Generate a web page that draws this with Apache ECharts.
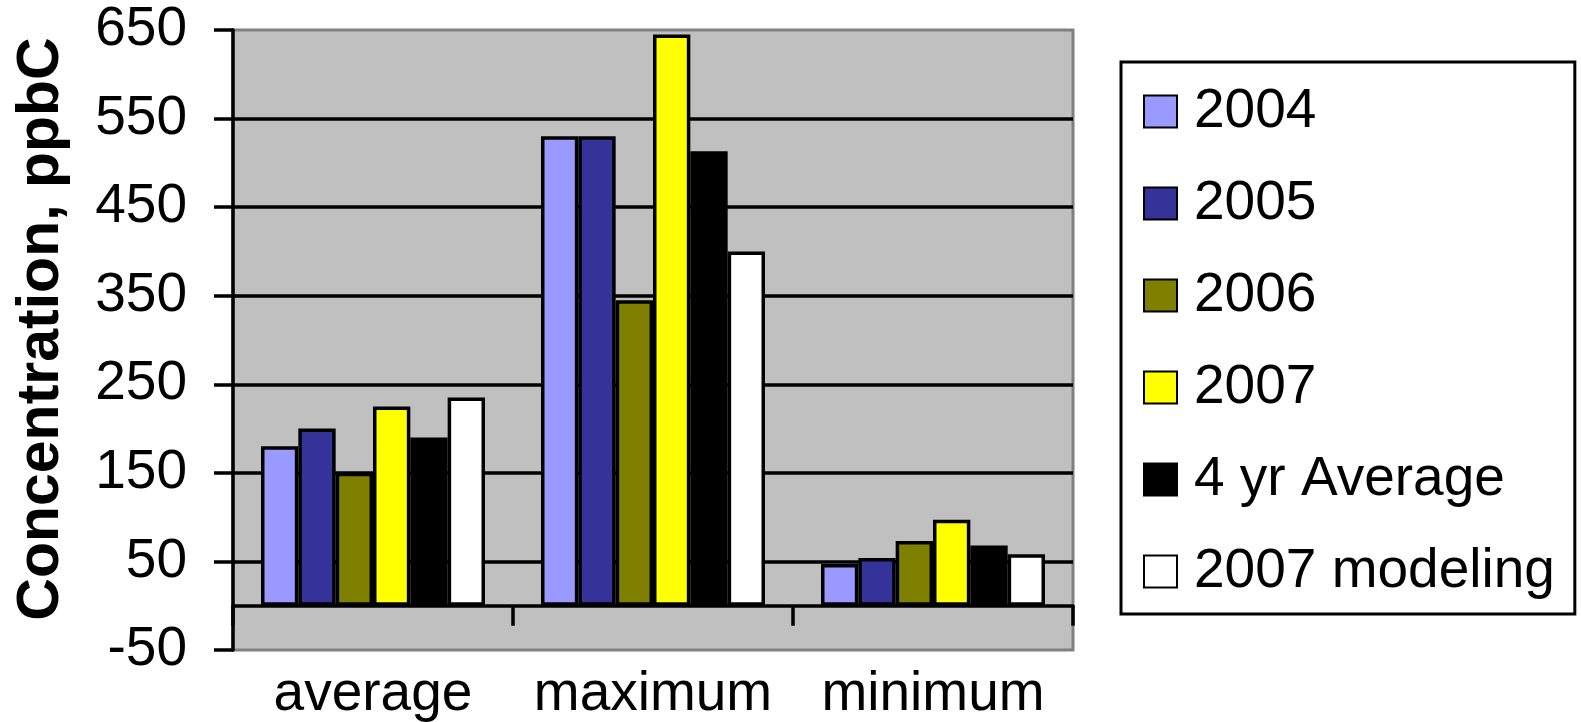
<!DOCTYPE html>
<html>
<head>
<meta charset="utf-8">
<script src="https://cdn.jsdelivr.net/npm/echarts@6/dist/echarts.min.js"></script>
<style>
  html, body { margin: 0; padding: 0; background: #ffffff; }
  #chart { width: 1581px; height: 722px; }
</style>
</head>
<body>
<div id="chart"></div>
<script>
// Concentration statistics (ppbC) per year
const categories = ['average', 'maximum', 'minimum'];
const seriesNames = ['2004', '2005', '2006', '2007', '4 yr Average', '2007 modeling'];
const values2004 = [180, 530, 47];
const values2005 = [200, 530, 54];
const values2006 = [150, 345, 73];
const values2007 = [225, 645, 97];
const valuesFourYear = [190, 513, 68];
const valuesModeling = [235, 400, 58];
const seriesColors = ['#9999ff', '#333399', '#808000', '#ffff00', '#000000', '#ffffff'];
const yMin = -50, yMax = 650, yStep = 100;

const seriesValues = [values2004, values2005, values2006, values2007, valuesFourYear, valuesModeling];
const FONT = "'Liberation Sans', Arial, sans-serif";

const chart = echarts.init(document.getElementById('chart'), null, { renderer: 'canvas' });

chart.setOption({
  animation: false,
  backgroundColor: '#ffffff',
  textStyle: { fontFamily: FONT, color: '#000' },
  grid: {
    left: 233, top: 30, right: 508, bottom: 70,
    show: true,
    backgroundColor: '#c0c0c0',
    borderColor: '#808080',
    borderWidth: 3
  },
  legend: {
    orient: 'vertical',
    left: 1121, top: 62,
    padding: [22, 20, 15, 22],
    itemGap: 37,
    itemWidth: 33, itemHeight: 32,
    borderColor: '#000', borderWidth: 3,
    backgroundColor: '#fff',
    icon: 'rect',
    textStyle: { fontSize: 55, lineHeight: 55, fontFamily: FONT, color: '#000', padding: [0, 0, 0, 12] },
    data: seriesNames
  },
  xAxis: [
    {
      type: 'category',
      data: categories,
      position: 'bottom',
      axisLine: { show: false, onZero: false },
      axisTick: { show: false },
      axisLabel: { interval: 0, fontSize: 55, margin: 17, color: '#000', fontFamily: FONT },
      splitLine: { show: false }
    },
    {
      // baseline drawn along zero with its category ticks
      type: 'category',
      data: categories,
      position: 'top',
      axisLine: { show: true, onZero: true, lineStyle: { color: '#000', width: 3.5 } },
      axisTick: { show: true, inside: true, length: 20, lineStyle: { color: '#000', width: 3.5 } },
      axisLabel: { show: false },
      splitLine: { show: false }
    }
  ],
  yAxis: {
    type: 'value',
    min: yMin, max: yMax, interval: yStep,
    name: 'Concentration, ppbC',
    nameLocation: 'middle',
    nameGap: 162,
    nameRotate: 90,
    nameTextStyle: { fontSize: 59, fontWeight: 'bold', fontFamily: FONT, color: '#000', padding: [0, 0, 0, 22] },
    axisLine: { show: true, lineStyle: { color: '#000', width: 3.5 } },
    axisTick: { show: true, length: 19, lineStyle: { color: '#000', width: 3.5 } },
    axisLabel: { fontSize: 55, margin: 46, color: '#000', fontFamily: FONT },
    splitLine: { show: true, showMinLine: false, showMaxLine: false, lineStyle: { color: '#000', width: 3.5 } }
  },
  series: seriesNames.map((name, i) => ({
    name: name,
    type: 'bar',
    xAxisIndex: 0,
    data: seriesValues[i],
    barGap: '0%',
    barCategoryGap: '20%',
    itemStyle: { color: seriesColors[i], borderColor: '#000', borderWidth: 3.5 }
  }))
});
</script>
</body>
</html>
